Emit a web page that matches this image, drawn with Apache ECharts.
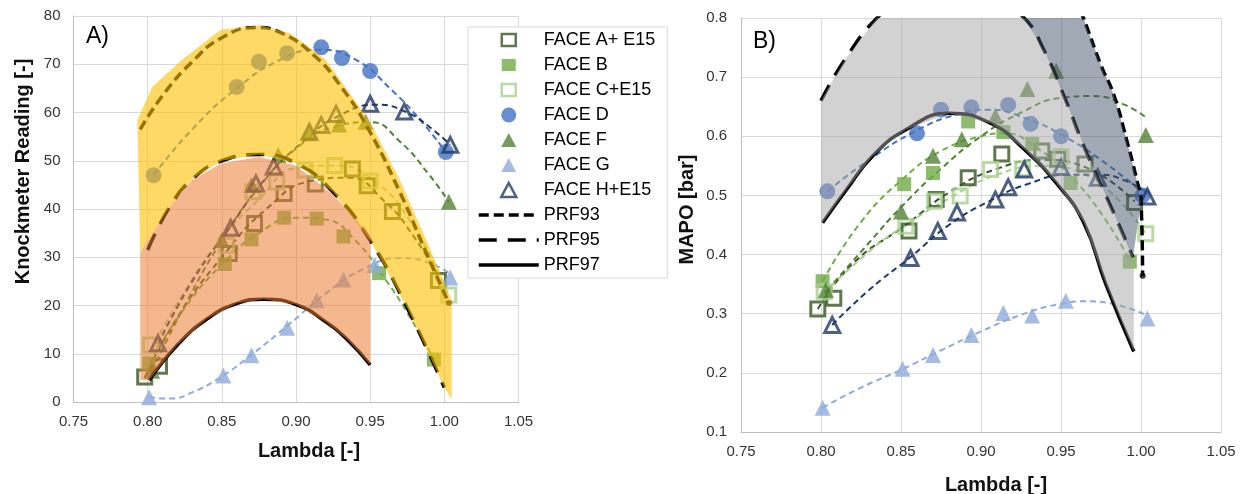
<!DOCTYPE html>
<html>
<head>
<meta charset="utf-8">
<script src="https://cdn.jsdelivr.net/npm/echarts@6/dist/echarts.min.js"></script>
<style>
  html, body { margin: 0; padding: 0; background: #fff; }
  #chart { width: 1247px; height: 494px; }
</style>
</head>
<body>
<div id="chart"></div>
<script>
// ---- measured points (lambda, knock reading, MAPO) ----
const faceA_lambda = [0.798, 0.808, 0.855, 0.872, 0.892, 0.913, 0.938, 0.948, 0.965, 0.996];
const faceA_kr     = [5.2, 7.4, 30.8, 37.0, 43.2, 45.2, 48.3, 44.8, 39.5, 25.2];
const faceA_mapo   = [0.308, 0.326, 0.440, 0.493, 0.530, 0.570, 0.575, 0.561, 0.553, 0.488];

const faceB_lambda = [0.801, 0.852, 0.870, 0.892, 0.914, 0.932, 0.956, 0.993];
const faceB_kr     = [8.0, 28.6, 33.7, 38.2, 38.0, 34.3, 26.7, 8.8];
const faceB_mapo   = [0.355, 0.519, 0.538, 0.625, 0.607, 0.587, 0.521, 0.388];

const faceC_lambda = [0.802, 0.853, 0.871, 0.887, 0.906, 0.926, 0.950, 1.003];
const faceC_kr     = [11.8, 32.5, 43.6, 45.6, 48.1, 49.0, 45.8, 22.2];
const faceC_mapo   = [0.337, 0.448, 0.490, 0.499, 0.544, 0.545, 0.566, 0.435];

const faceD_lambda = [0.804, 0.860, 0.875, 0.894, 0.917, 0.931, 0.950, 1.001];
const faceD_kr     = [47.0, 65.3, 70.5, 72.3, 73.5, 71.3, 68.6, 51.8];
const faceD_mapo   = [0.507, 0.605, 0.645, 0.649, 0.653, 0.621, 0.600, 0.500];

const faceF_lambda = [0.803, 0.850, 0.870, 0.888, 0.909, 0.929, 0.947, 1.003];
const faceF_kr     = [6.5, 33.6, 45.0, 51.2, 55.7, 57.5, 58.1, 41.5];
const faceF_mapo   = [0.340, 0.473, 0.567, 0.595, 0.634, 0.680, 0.711, 0.602];

const faceG_lambda = [0.801, 0.851, 0.870, 0.894, 0.914, 0.932, 0.953, 1.004];
const faceG_kr     = [1.0, 5.5, 9.7, 15.4, 21.1, 25.4, 28.4, 25.8];
const faceG_mapo   = [0.141, 0.207, 0.230, 0.264, 0.301, 0.297, 0.322, 0.292];

const faceH_lambda = [0.807, 0.856, 0.873, 0.885, 0.909, 0.917, 0.927, 0.950, 0.973, 1.004];
const faceH_kr     = [12.2, 36.1, 45.3, 48.8, 56.0, 57.4, 59.7, 61.8, 60.2, 53.3];
const faceH_mapo   = [0.281, 0.394, 0.440, 0.471, 0.493, 0.514, 0.544, 0.548, 0.530, 0.498];

// ---- trend lines ----
const trendA_kr = [[0.798,5],[0.82,17.5],[0.85,30],[0.88,40],[0.91,45.8],[0.935,46.5],[0.96,41.5],[0.98,34],[0.996,26]];
const trendB_kr = [[0.801,8],[0.825,19.5],[0.85,28.5],[0.875,35],[0.9,38.2],[0.92,37.8],[0.94,33.5],[0.96,25.5],[0.975,18.5],[0.993,8.8]];
const trendC_kr = [[0.802,10.5],[0.825,23],[0.85,34],[0.875,42],[0.9,48.5],[0.925,49],[0.95,46.5],[0.978,37],[1.003,21.8]];
const trendD_kr = [[0.804,47],[0.83,56.5],[0.86,65],[0.89,71],[0.915,73],[0.94,71],[0.965,64.5],[0.985,58],[1.001,51.8]];
const trendF_kr = [[0.803,6.5],[0.825,20],[0.85,33.5],[0.875,44.5],[0.9,52.5],[0.925,57],[0.95,58],[0.97,54],[0.99,47],[1.003,41.5]];
const trendG_kr = [[0.801,1],[0.815,0.7],[0.83,2],[0.85,5.3],[0.87,9.8],[0.895,16],[0.92,22.5],[0.945,27.5],[0.97,29.8],[0.99,28.8],[1.004,26.5]];
const trendH_kr = [[0.807,12],[0.83,25],[0.856,36.5],[0.88,46.5],[0.905,54],[0.93,59.5],[0.955,61.6],[0.975,60],[0.99,57],[1.004,53.3]];

const trendA_mapo = [[0.798,0.308],[0.82,0.385],[0.853,0.45],[0.88,0.505],[0.91,0.545],[0.94,0.56],[0.965,0.548],[0.996,0.49]];
const trendB_mapo = [[0.801,0.355],[0.825,0.455],[0.852,0.53],[0.875,0.575],[0.9,0.6],[0.915,0.605],[0.935,0.58],[0.955,0.535],[0.975,0.47],[0.993,0.39]];
const trendC_mapo = [[0.802,0.335],[0.83,0.405],[0.853,0.45],[0.88,0.495],[0.91,0.535],[0.94,0.55],[0.965,0.535],[0.985,0.495],[1.003,0.435]];
const trendD_mapo = [[0.804,0.507],[0.83,0.56],[0.86,0.61],[0.885,0.637],[0.905,0.645],[0.93,0.628],[0.95,0.603],[0.975,0.56],[1.001,0.505]];
const trendF_mapo = [[0.804,0.34],[0.83,0.42],[0.85,0.48],[0.875,0.545],[0.9,0.6],[0.925,0.64],[0.95,0.665],[0.97,0.668],[0.99,0.653],[1.003,0.632]];
const trendG_mapo = [[0.801,0.141],[0.825,0.175],[0.85,0.205],[0.875,0.238],[0.9,0.27],[0.925,0.298],[0.95,0.317],[0.965,0.321],[0.985,0.315],[1.004,0.297]];
const trendH_mapo = [[0.807,0.281],[0.83,0.34],[0.856,0.396],[0.88,0.45],[0.905,0.49],[0.93,0.52],[0.955,0.535],[0.975,0.535],[0.99,0.525],[1.004,0.505]];

// ---- fuel curves ----
const prf93_kr = [[0.795,56.5],[0.81,63.5],[0.83,70.5],[0.85,75.5],[0.873,77.6],[0.89,76.5],[0.913,71.6],[0.93,65.5],[0.948,57],[0.97,43.5],[0.987,31.5],[1.003,20.5]];
const prf95_kr = [[0.80,31.5],[0.815,40.5],[0.83,46.2],[0.85,50],[0.875,51.3],[0.9,49.5],[0.925,43.5],[0.95,33.5],[0.975,19.5],[1.0,3]];
const prf97_kr = [[0.801,4.5],[0.82,11.8],[0.84,17.2],[0.86,20.4],[0.878,21.3],[0.9,20.2],[0.92,16.6],[0.935,12.8],[0.95,7.7]];

const prf93_mapo = [[0.955,0.86],[0.964,0.8],[0.975,0.72],[0.983,0.67],[0.991,0.594],[0.997,0.53],[1.0,0.49],[1.001,0.364]];
const prf95_mapo = [[0.80,0.66],[0.815,0.73],[0.835,0.80],[0.855,0.84],[0.88,0.855],[0.905,0.84],[0.927,0.80],[0.94,0.742],[0.952,0.667],[0.966,0.572],[0.983,0.47],[0.995,0.395]];
const prf97_mapo = [[0.801,0.454],[0.816,0.51],[0.832,0.566],[0.853,0.611],[0.88,0.639],[0.906,0.622],[0.927,0.578],[0.947,0.521],[0.964,0.455],[0.978,0.35],[0.9955,0.236]];

// ---- shaded bands ----
const bandYellow = [[0.793,58.4],[0.803,65.3],[0.823,70.9],[0.849,77.1],[0.876,78.1],[0.896,76.4],[0.92,71],[0.95,58],[0.97,46],[0.99,32],[1.005,21],[1.005,0.5],
  [1.0,3],[0.975,19.5],[0.95,33.5],[0.925,43.5],[0.9,49.5],[0.875,51.3],[0.85,50],[0.83,46.2],[0.815,40.5],[0.795,31]];
const bandOrange = [[0.795,31],[0.815,40.5],[0.83,46],[0.85,49.5],[0.875,50.8],[0.9,49],[0.925,43],[0.95,34.5],[0.95,7.7],
  [0.935,12.8],[0.92,16.6],[0.9,20.2],[0.878,21.3],[0.86,20.4],[0.84,17.2],[0.82,11.8],[0.801,4.5],[0.795,4.5]];
const bandGrey = [[0.80,0.66],[0.815,0.73],[0.835,0.80],[0.855,0.84],[0.88,0.855],[0.905,0.84],[0.927,0.80],[0.94,0.742],[0.952,0.667],[0.966,0.572],[0.983,0.47],[0.9955,0.395],
  [0.9955,0.236],[0.978,0.35],[0.964,0.455],[0.947,0.521],[0.927,0.578],[0.906,0.622],[0.88,0.639],[0.853,0.611],[0.832,0.566],[0.816,0.51],[0.801,0.454],[0.80,0.454]];
const bandSlate = [[0.92,0.8],[0.927,0.80],[0.94,0.742],[0.952,0.667],[0.966,0.572],[0.983,0.47],[0.995,0.395],
  [1.0,0.49],[0.997,0.53],[0.991,0.594],[0.983,0.67],[0.975,0.72],[0.964,0.8]];

const xTicks = [0.75, 0.80, 0.85, 0.90, 0.95, 1.00, 1.05];

function pairs(xs, ys) {
  return xs.map(function (x, i) { return [x, ys[i]]; });
}

// legend icons: the leading moves span the whole 60x15 icon box so the mark keeps its shape
const iconSquare = 'path://M0,0M60,15M23,1.5h14v12h-14Z';
const iconTriangle = 'path://M0,0M60,15M30,0.5L37.5,14.5L22.5,14.5Z';

const faces = [
  { name: 'FACE A+ E15', color: '#375623', symbol: 'rect', size: 14, hollow: true, icon: iconSquare,
    x: faceA_lambda, kr: faceA_kr, mapo: faceA_mapo, tKr: trendA_kr, tMapo: trendA_mapo },
  { name: 'FACE B', color: '#70AD47', symbol: 'rect', size: 14, hollow: false, icon: iconSquare,
    x: faceB_lambda, kr: faceB_kr, mapo: faceB_mapo, tKr: trendB_kr, tMapo: trendB_mapo },
  { name: 'FACE C+E15', color: '#A9D18E', symbol: 'rect', size: 14, hollow: true, icon: iconSquare,
    x: faceC_lambda, kr: faceC_kr, mapo: faceC_mapo, tKr: trendC_kr, tMapo: trendC_mapo },
  { name: 'FACE D', color: '#4472C4', symbol: 'circle', size: 16, hollow: false, icon: 'circle',
    x: faceD_lambda, kr: faceD_kr, mapo: faceD_mapo, tKr: trendD_kr, tMapo: trendD_mapo },
  { name: 'FACE F', color: '#548235', symbol: 'triangle', size: 16, hollow: false, icon: iconTriangle,
    x: faceF_lambda, kr: faceF_kr, mapo: faceF_mapo, tKr: trendF_kr, tMapo: trendF_mapo },
  { name: 'FACE G', color: '#8FAADC', symbol: 'triangle', size: 16, hollow: false, icon: iconTriangle,
    x: faceG_lambda, kr: faceG_kr, mapo: faceG_mapo, tKr: trendG_kr, tMapo: trendG_mapo },
  { name: 'FACE H+E15', color: '#203864', symbol: 'triangle', size: 15, hollow: true, icon: iconTriangle,
    x: faceH_lambda, kr: faceH_kr, mapo: faceH_mapo, tKr: trendH_kr, tMapo: trendH_mapo }
];

const series = [];

faces.forEach(function (f) {
  [[0, f.kr, f.tKr], [1, f.mapo, f.tMapo]].forEach(function (p) {
    series.push({
      name: f.name + ' trend',
      type: 'line',
      xAxisIndex: p[0], yAxisIndex: p[0],
      data: p[2],
      smooth: true,
      symbol: 'none',
      z: 3,
      lineStyle: { color: f.color, width: 2, type: [6, 4] }
    });
    series.push({
      name: f.name,
      type: 'scatter',
      xAxisIndex: p[0], yAxisIndex: p[0],
      data: pairs(f.x, p[1]),
      symbol: f.symbol,
      symbolSize: f.size,
      z: 4,
      itemStyle: f.hollow
        ? { color: 'rgba(255,255,255,0)', borderColor: f.color, borderWidth: 3 }
        : { color: f.color }
    });
  });
});

const prfs = [
  { name: 'PRF93', kr: prf93_kr, mapo: prf93_mapo, type: [10, 5] },
  { name: 'PRF95', kr: prf95_kr, mapo: prf95_mapo, type: [18, 11] },
  { name: 'PRF97', kr: prf97_kr, mapo: prf97_mapo, type: 'solid' }
];

prfs.forEach(function (p) {
  [[0, p.kr], [1, p.mapo]].forEach(function (q) {
    series.push({
      name: p.name,
      type: 'line',
      xAxisIndex: q[0], yAxisIndex: q[0],
      data: q[1],
      smooth: true,
      symbol: 'none',
      z: 5,
      itemStyle: { color: 'rgba(0,0,0,0)' },
      lineStyle: { color: '#000', width: 3.5, type: p.type }
    });
  });
});

// end dot of PRF93
[[0, prf93_kr], [1, prf93_mapo]].forEach(function (q) {
  series.push({
    name: 'PRF93 end',
    type: 'scatter',
    xAxisIndex: q[0], yAxisIndex: q[0],
    data: [q[1][q[1].length - 1]],
    symbolSize: 6,
    z: 5,
    itemStyle: { color: '#000' }
  });
});

function band(name, idx, pts, fill) {
  return {
    name: name,
    type: 'custom',
    xAxisIndex: idx, yAxisIndex: idx,
    data: [pts[0]],
    silent: true,
    z: 6,
    renderItem: function (params, api) {
      const cs = params.coordSys;
      return {
        type: 'polygon',
        shape: { points: pts.map(function (p) { return api.coord(p); }) },
        style: { fill: fill },
        clipPath: { type: 'rect', shape: { x: cs.x, y: cs.y, width: cs.width, height: cs.height } }
      };
    }
  };
}

series.push(band('band yellow', 0, bandYellow, 'rgba(255,192,0,0.6)'));
series.push(band('band orange', 0, bandOrange, 'rgba(237,125,49,0.55)'));
series.push(band('band grey', 1, bandGrey, 'rgba(166,166,166,0.5)'));
series.push(band('band slate', 1, bandSlate, 'rgba(68,84,106,0.5)'));

const font = 'Liberation Sans';
const tickLabel = { fontSize: 15, color: '#333', fontFamily: font };
const gridLine = { show: true, lineStyle: { color: '#d9d9d9', width: 1 } };
const axisLine = { show: true, lineStyle: { color: '#bfbfbf', width: 1 } };
const titleStyle = { fontSize: 20, fontWeight: 'bold', color: '#111', fontFamily: font };

function xAxis(idx, gap, pad) {
  return {
    type: 'value', gridIndex: idx,
    min: xTicks[0], max: xTicks[xTicks.length - 1], interval: 0.05,
    name: 'Lambda [-]', nameLocation: 'middle', nameGap: gap,
    nameTextStyle: Object.assign({ padding: [0, 0, 0, pad] }, titleStyle),
    axisLine: axisLine, axisTick: { show: false }, splitLine: gridLine,
    axisLabel: Object.assign({ margin: 12, formatter: function (v) { return v.toFixed(2); } }, tickLabel)
  };
}

const option = {
  animation: false,
  backgroundColor: '#fff',
  grid: [
    { left: 73.5, top: 16, width: 445, height: 386, outerBoundsMode: 'none' },
    { left: 741, top: 18, width: 480, height: 414, outerBoundsMode: 'none' }
  ],
  xAxis: [xAxis(0, 39, 26), xAxis(1, 43, 30)],
  yAxis: [
    {
      type: 'value', gridIndex: 0, min: 0, max: 80, interval: 10,
      name: 'Knockmeter Reading [-]', nameLocation: 'middle', nameGap: 40,
      nameTextStyle: Object.assign({ padding: [0, 0, 0, 75] }, titleStyle),
      axisLine: axisLine, axisTick: { show: false }, splitLine: gridLine,
      axisLabel: Object.assign({ margin: 13 }, tickLabel)
    },
    {
      type: 'value', gridIndex: 1, min: 0.1, max: 0.8, interval: 0.1,
      name: 'MAPO [bar]', nameLocation: 'middle', nameGap: 44,
      nameTextStyle: Object.assign({ padding: [0, 0, 0, 31] }, titleStyle),
      axisLine: axisLine, axisTick: { show: false }, splitLine: gridLine,
      axisLabel: Object.assign({ margin: 14, formatter: function (v) { return v.toFixed(1); } }, tickLabel)
    }
  ],
  legend: {
    data: faces.map(function (f) {
      const item = { name: f.name, icon: f.icon };
      if (f.hollow) item.itemStyle = { borderWidth: 2.5 };
      return item;
    }).concat(prfs.map(function (p) { return { name: p.name }; })),
    orient: 'vertical',
    left: 468, top: 27,
    itemWidth: 60, itemHeight: 15, itemGap: 7,
    padding: [4, 12, 4, 9],
    backgroundColor: '#fff', borderColor: '#d9d9d9', borderWidth: 1, borderRadius: 0,
    selectedMode: false,
    z: 20,
    lineStyle: { width: 3.5 },
    textStyle: { fontSize: 18, color: '#000', fontFamily: font }
  },
  graphic: [
    { type: 'text', left: 86, top: 25, z: 20, style: { text: 'A)', fontSize: 23, fill: '#000', fontFamily: font } },
    { type: 'text', left: 753, top: 30, z: 20, style: { text: 'B)', fontSize: 23, fill: '#000', fontFamily: font } }
  ],
  series: series
};

const chart = echarts.init(document.getElementById('chart'));
chart.setOption(option);
window.onresize = function () { chart.resize(); };
</script>
</body>
</html>
